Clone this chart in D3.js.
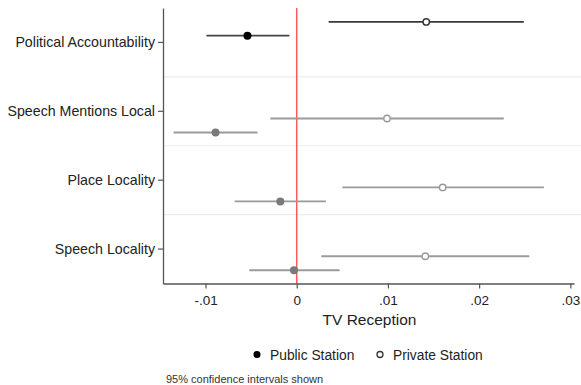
<!DOCTYPE html>
<html>
<head>
<meta charset="utf-8">
<script src="https://cdn.jsdelivr.net/npm/d3@7"></script>
<style>
  body { margin: 0; background: #fff; }
  svg { display: block; font-family: "Liberation Sans", Arial, sans-serif; }
</style>
</head>
<body>
<div id="chart"></div>
<script>
// data
var categories = ["Political Accountability", "Speech Mentions Local", "Place Locality", "Speech Locality"];
var publicEst = [-0.0054, -0.0089, -0.0018, -0.0003];
var publicLo  = [-0.0099, -0.0135, -0.0068, -0.0052];
var publicHi  = [-0.0008, -0.0043, 0.0032, 0.0047];
var privateEst = [0.0142, 0.0099, 0.0160, 0.0141];
var privateLo  = [0.0035, -0.0029, 0.0050, 0.0027];
var privateHi  = [0.0249, 0.0227, 0.0271, 0.0255];
var xTicks = [-0.01, 0, 0.01, 0.02, 0.03];
var xTickLabels = ["-.01", "0", ".01", ".02", ".03"];

var width = 581, height = 385;
// note: "top" is reserved on window, so use plot* names
var plotLeft = 163, plotRight = 574, plotTop = 8, plotBottom = 283.5;

var svg = d3.select("#chart").append("svg")
	.attr("width", width)
	.attr("height", height);

var x = d3.scaleLinear()
	.domain([-0.01466, 0.0304])
	.range([plotLeft, plotRight]);

var y = d3.scaleBand()
	.domain(categories)
	.range([plotTop, plotBottom]);

// separator lines between groups
svg.append("g").selectAll("line")
	.data(categories.slice(1))
	.enter().append("line")
	.attr("x1", plotLeft).attr("x2", width)
	.attr("y1", function (d) { return y(d); })
	.attr("y2", function (d) { return y(d); })
	.attr("stroke", "#ececec")
	.attr("stroke-width", 1.2);

// zero reference line
svg.append("line")
	.attr("x1", x(0)).attr("x2", x(0))
	.attr("y1", plotTop).attr("y2", plotBottom)
	.attr("stroke", "#ff5a5a")
	.attr("stroke-width", 1.5);

// rows: first category sits higher in its band than the others
function rowY(i, isPrivate) {
	var c = y(categories[i]) + y.bandwidth() / 2;
	if (i == 0) return c + (isPrivate ? -20.5 : -6.8);
	return c + (isPrivate ? 7.2 : 21.2);
}

var rows = [];
categories.forEach(function (c, i) {
	rows.push({ i: i, priv: true, est: privateEst[i], lo: privateLo[i], hi: privateHi[i] });
	rows.push({ i: i, priv: false, est: publicEst[i], lo: publicLo[i], hi: publicHi[i] });
});

function lineCol(d) {
	if (d.i == 0) return d.priv ? "#3a3a3a" : "#454545";
	return "#9a9a9a";
}
function dotCol(d) {
	if (d.i == 0) return d.priv ? "#333" : "#000";
	return d.priv ? "#999" : "#7a7a7a";
}

var g = svg.append("g");
g.selectAll("line.ci")
	.data(rows)
	.enter().append("line")
	.attr("class", "ci")
	.attr("x1", function (d) { return x(d.lo); })
	.attr("x2", function (d) { return x(d.hi); })
	.attr("y1", function (d) { return rowY(d.i, d.priv); })
	.attr("y2", function (d) { return rowY(d.i, d.priv); })
	.attr("stroke", lineCol)
	.attr("stroke-width", 1.8);

g.selectAll("circle")
	.data(rows)
	.enter().append("circle")
	.attr("cx", function (d) { return x(d.est); })
	.attr("cy", function (d) { return rowY(d.i, d.priv); })
	.attr("r", function (d) { return d.priv ? 3.2 : 4; })
	.attr("fill", function (d) { return d.priv ? "#fff" : dotCol(d); })
	.attr("stroke", dotCol)
	.attr("stroke-width", function (d) { return d.priv ? 1.4 : 0; });

// axes
var xAxis = svg.append("g")
	.attr("transform", "translate(0," + plotBottom + ")")
	.call(d3.axisBottom(x).tickValues(xTicks)
		.tickFormat(function (d, i) { return xTickLabels[i]; })
		.tickSize(5).tickSizeOuter(0));
xAxis.select(".domain").attr("stroke", "#555").attr("stroke-width", 1.3);
xAxis.selectAll(".tick line").attr("stroke", "#555").attr("stroke-width", 1.2);
xAxis.selectAll("text")
	.attr("font-size", 13.5)
	.attr("fill", "#222")
	.attr("font-family", "Liberation Sans, Arial, sans-serif")
	.attr("dy", "1.0em");

var yAxis = svg.append("g")
	.attr("transform", "translate(" + plotLeft + ",0)")
	.call(d3.axisLeft(y).tickSize(5).tickSizeOuter(0).tickPadding(3));
yAxis.select(".domain").attr("stroke", "#555").attr("stroke-width", 1.3);
yAxis.selectAll(".tick line").attr("stroke", "#555").attr("stroke-width", 1.2);
yAxis.selectAll("text")
	.attr("font-size", 14.2)
	.attr("fill", "#222")
	.attr("font-family", "Liberation Sans, Arial, sans-serif");

// axis title
svg.append("text")
	.attr("x", (plotLeft + plotRight) / 2 + 1)
	.attr("y", 325)
	.attr("text-anchor", "middle")
	.attr("font-size", 15.5)
	.attr("fill", "#222")
	.text("TV Reception");

// legend
var legend = svg.append("g");
legend.append("circle")
	.attr("cx", 257).attr("cy", 354.5).attr("r", 3.5)
	.attr("fill", "#000");
legend.append("text")
	.attr("x", 270).attr("y", 359.5)
	.attr("font-size", 13.8).attr("fill", "#222")
	.text("Public Station");
legend.append("circle")
	.attr("cx", 380).attr("cy", 354.5).attr("r", 3)
	.attr("fill", "#fff").attr("stroke", "#333").attr("stroke-width", 1.3);
legend.append("text")
	.attr("x", 393).attr("y", 359.5)
	.attr("font-size", 13.8).attr("fill", "#222")
	.text("Private Station");

// note
svg.append("text")
	.attr("x", 166).attr("y", 383)
	.attr("font-size", 11)
	.attr("fill", "#333")
	.text("95% confidence intervals shown");
</script>
</body>
</html>
